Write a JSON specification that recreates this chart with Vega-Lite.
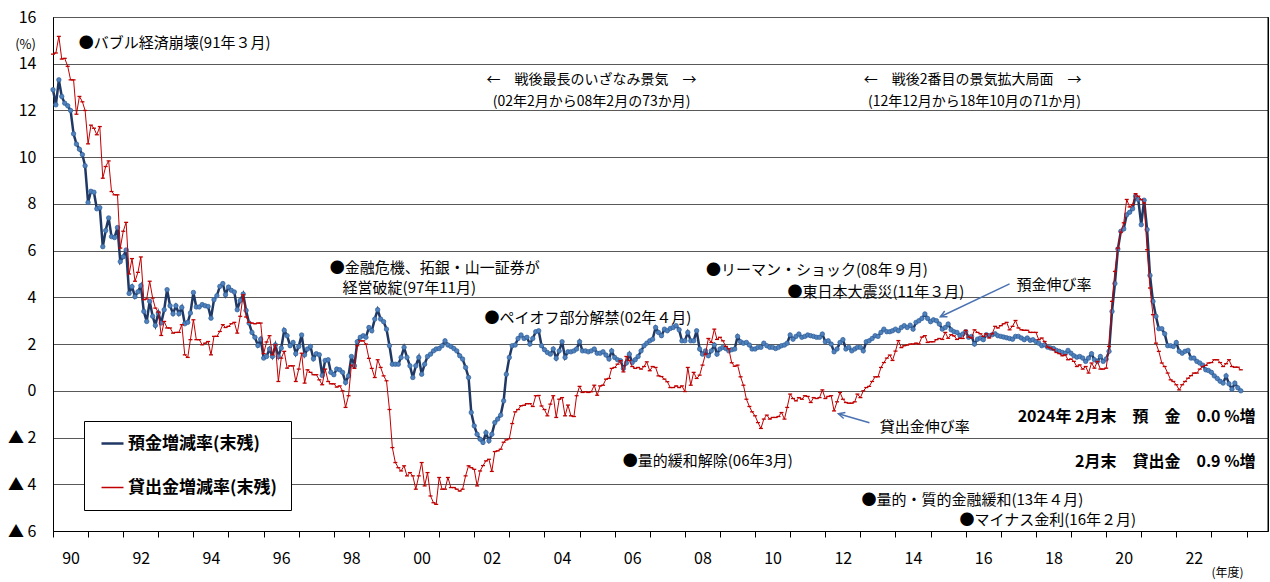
{
"$schema": "https://vega.github.io/schema/vega-lite/v6.json",
"width": 1215, "height": 514,
"autosize": {"type": "none"},
"padding": {"left": 53, "top": 17, "right": 2, "bottom": 51},
"background": "white",
"config": {"font": "Noto Sans CJK JP", "view": {"stroke": "#000000", "strokeWidth": 1}, "text": {"font": "Noto Sans CJK JP"}},
"data": {"values": [
{"d":"1990-04-01","dep":12.89,"loan":14.41},{"d":"1990-05-01","dep":12.24,"loan":14.46},{"d":"1990-06-01","dep":13.31,"loan":15.17},{"d":"1990-07-01","dep":12.6,"loan":14.2},{"d":"1990-08-01","dep":12.31,"loan":14.23},{"d":"1990-09-01","dep":12.2,"loan":13.89},{"d":"1990-10-01","dep":12.0,"loan":13.31},{"d":"1990-11-01","dep":11.0,"loan":13.31},{"d":"1990-12-01","dep":10.56,"loan":11.84},
{"d":"1991-01-01","dep":10.34,"loan":12.6},{"d":"1991-02-01","dep":10.11,"loan":12.37},{"d":"1991-03-01","dep":9.63,"loan":12.0},{"d":"1991-04-01","dep":8.06,"loan":10.57},{"d":"1991-05-01","dep":8.54,"loan":11.37},{"d":"1991-06-01","dep":8.5,"loan":11.24},{"d":"1991-07-01","dep":7.79,"loan":10.96},{"d":"1991-08-01","dep":7.84,"loan":11.31},{"d":"1991-09-01","dep":6.17,"loan":9.1},{"d":"1991-10-01","dep":6.86,"loan":9.6},{"d":"1991-11-01","dep":7.4,"loan":9.84},{"d":"1991-12-01","dep":6.6,"loan":8.53},
{"d":"1992-01-01","dep":6.56,"loan":8.39},{"d":"1992-02-01","dep":6.99,"loan":8.39},{"d":"1992-03-01","dep":5.53,"loan":6.11},{"d":"1992-04-01","dep":5.74,"loan":6.83},{"d":"1992-05-01","dep":6.03,"loan":7.21},{"d":"1992-06-01","dep":4.17,"loan":5.0},{"d":"1992-07-01","dep":4.46,"loan":5.66},{"d":"1992-08-01","dep":4.03,"loan":4.69},{"d":"1992-09-01","dep":4.24,"loan":5.07},{"d":"1992-10-01","dep":4.5,"loan":5.73},{"d":"1992-11-01","dep":3.4,"loan":3.9},{"d":"1992-12-01","dep":2.97,"loan":3.93},
{"d":"1993-01-01","dep":3.83,"loan":4.69},{"d":"1993-02-01","dep":3.19,"loan":3.97},{"d":"1993-03-01","dep":2.8,"loan":3.54},{"d":"1993-04-01","dep":3.33,"loan":3.37},{"d":"1993-05-01","dep":2.9,"loan":2.37},{"d":"1993-06-01","dep":3.47,"loan":2.97},{"d":"1993-07-01","dep":4.33,"loan":2.69},{"d":"1993-08-01","dep":3.64,"loan":2.69},{"d":"1993-09-01","dep":3.3,"loan":2.47},{"d":"1993-10-01","dep":3.64,"loan":2.5},{"d":"1993-11-01","dep":3.3,"loan":2.5},{"d":"1993-12-01","dep":3.57,"loan":2.83},
{"d":"1994-01-01","dep":2.87,"loan":1.54},{"d":"1994-02-01","dep":2.93,"loan":1.43},{"d":"1994-03-01","dep":3.33,"loan":2.19},{"d":"1994-04-01","dep":4.21,"loan":3.04},{"d":"1994-05-01","dep":3.59,"loan":2.19},{"d":"1994-06-01","dep":3.59,"loan":2.19},{"d":"1994-07-01","dep":3.69,"loan":1.97},{"d":"1994-08-01","dep":3.64,"loan":2.04},{"d":"1994-09-01","dep":3.61,"loan":2.11},{"d":"1994-10-01","dep":3.11,"loan":1.54},{"d":"1994-11-01","dep":3.9,"loan":2.33},{"d":"1994-12-01","dep":4.07,"loan":2.33},
{"d":"1995-01-01","dep":4.47,"loan":2.54},{"d":"1995-02-01","dep":4.59,"loan":2.83},{"d":"1995-03-01","dep":4.11,"loan":2.71},{"d":"1995-04-01","dep":4.44,"loan":2.76},{"d":"1995-05-01","dep":4.3,"loan":2.87},{"d":"1995-06-01","dep":4.23,"loan":2.93},{"d":"1995-07-01","dep":3.47,"loan":2.47},{"d":"1995-08-01","dep":3.87,"loan":3.19},{"d":"1995-09-01","dep":4.14,"loan":4.11},{"d":"1995-10-01","dep":3.44,"loan":3.16},{"d":"1995-11-01","dep":2.9,"loan":2.93},{"d":"1995-12-01","dep":2.5,"loan":2.9},
{"d":"1996-01-01","dep":2.29,"loan":2.87},{"d":"1996-02-01","dep":1.94,"loan":2.9},{"d":"1996-03-01","dep":2.21,"loan":2.9},{"d":"1996-04-01","dep":1.4,"loan":1.59},{"d":"1996-05-01","dep":1.47,"loan":2.09},{"d":"1996-06-01","dep":1.79,"loan":2.36},{"d":"1996-07-01","dep":1.47,"loan":1.54},{"d":"1996-08-01","dep":1.96,"loan":1.97},{"d":"1996-09-01","dep":1.47,"loan":0.4},{"d":"1996-10-01","dep":1.83,"loan":1.4},{"d":"1996-11-01","dep":2.59,"loan":1.69},{"d":"1996-12-01","dep":2.36,"loan":0.97},
{"d":"1997-01-01","dep":1.93,"loan":1.07},{"d":"1997-02-01","dep":2.07,"loan":1.07},{"d":"1997-03-01","dep":1.59,"loan":0.4},{"d":"1997-04-01","dep":1.9,"loan":0.93},{"d":"1997-05-01","dep":2.39,"loan":1.61},{"d":"1997-06-01","dep":1.54,"loan":0.33},{"d":"1997-07-01","dep":1.79,"loan":0.9},{"d":"1997-08-01","dep":1.9,"loan":0.79},{"d":"1997-09-01","dep":1.37,"loan":0.69},{"d":"1997-10-01","dep":1.59,"loan":0.69},{"d":"1997-11-01","dep":1.54,"loan":0.47},{"d":"1997-12-01","dep":0.66,"loan":0.26},
{"d":"1998-01-01","dep":1.3,"loan":0.93},{"d":"1998-02-01","dep":1.33,"loan":0.4},{"d":"1998-03-01","dep":0.79,"loan":0.3},{"d":"1998-04-01","dep":0.69,"loan":0.3},{"d":"1998-05-01","dep":0.93,"loan":0.16},{"d":"1998-06-01","dep":0.9,"loan":0.21},{"d":"1998-07-01","dep":0.79,"loan":0.0},{"d":"1998-08-01","dep":0.36,"loan":-0.71},{"d":"1998-09-01","dep":0.64,"loan":-0.21},{"d":"1998-10-01","dep":1.47,"loan":1.1},{"d":"1998-11-01","dep":1.07,"loan":0.96},{"d":"1998-12-01","dep":2.1,"loan":1.93},
{"d":"1999-01-01","dep":2.29,"loan":2.14},{"d":"1999-02-01","dep":2.36,"loan":2.14},{"d":"1999-03-01","dep":2.29,"loan":2.0},{"d":"1999-04-01","dep":2.71,"loan":1.39},{"d":"1999-05-01","dep":2.57,"loan":0.96},{"d":"1999-06-01","dep":3.07,"loan":0.57},{"d":"1999-07-01","dep":3.47,"loan":1.33},{"d":"1999-08-01","dep":3.07,"loan":1.0},{"d":"1999-09-01","dep":2.96,"loan":0.64},{"d":"1999-10-01","dep":2.64,"loan":0.43},{"d":"1999-11-01","dep":1.93,"loan":-0.8},{"d":"1999-12-01","dep":1.14,"loan":-2.43},
{"d":"2000-01-01","dep":1.14,"loan":-3.07},{"d":"2000-02-01","dep":1.14,"loan":-3.29},{"d":"2000-03-01","dep":1.43,"loan":-3.43},{"d":"2000-04-01","dep":1.86,"loan":-3.21},{"d":"2000-05-01","dep":1.43,"loan":-3.64},{"d":"2000-06-01","dep":1.07,"loan":-3.5},{"d":"2000-07-01","dep":0.57,"loan":-3.64},{"d":"2000-08-01","dep":1.07,"loan":-4.21},{"d":"2000-09-01","dep":1.43,"loan":-3.64},{"d":"2000-10-01","dep":0.71,"loan":-3.07},{"d":"2000-11-01","dep":1.14,"loan":-4.07},{"d":"2000-12-01","dep":1.47,"loan":-3.5},
{"d":"2001-01-01","dep":1.57,"loan":-4.5},{"d":"2001-02-01","dep":1.71,"loan":-4.79},{"d":"2001-03-01","dep":1.79,"loan":-4.86},{"d":"2001-04-01","dep":1.81,"loan":-3.71},{"d":"2001-05-01","dep":1.93,"loan":-4.21},{"d":"2001-06-01","dep":2.14,"loan":-4.21},{"d":"2001-07-01","dep":1.96,"loan":-3.71},{"d":"2001-08-01","dep":1.9,"loan":-4.14},{"d":"2001-09-01","dep":1.81,"loan":-4.14},{"d":"2001-10-01","dep":1.71,"loan":-4.21},{"d":"2001-11-01","dep":1.5,"loan":-4.29},{"d":"2001-12-01","dep":1.36,"loan":-4.21},
{"d":"2002-01-01","dep":1.0,"loan":-3.64},{"d":"2002-02-01","dep":0.57,"loan":-3.21},{"d":"2002-03-01","dep":-0.93,"loan":-3.29},{"d":"2002-04-01","dep":-1.5,"loan":-3.36},{"d":"2002-05-01","dep":-1.86,"loan":-4.07},{"d":"2002-06-01","dep":-2.07,"loan":-3.43},{"d":"2002-07-01","dep":-2.21,"loan":-3.2},{"d":"2002-08-01","dep":-1.79,"loan":-3.0},{"d":"2002-09-01","dep":-2.14,"loan":-2.93},{"d":"2002-10-01","dep":-1.86,"loan":-3.45},{"d":"2002-11-01","dep":-1.36,"loan":-2.6},{"d":"2002-12-01","dep":-1.21,"loan":-2.57},
{"d":"2003-01-01","dep":-1.04,"loan":-2.5},{"d":"2003-02-01","dep":-0.43,"loan":-2.2},{"d":"2003-03-01","dep":0.71,"loan":-2.1},{"d":"2003-04-01","dep":1.43,"loan":-2.05},{"d":"2003-05-01","dep":1.93,"loan":-1.4},{"d":"2003-06-01","dep":1.96,"loan":-0.9},{"d":"2003-07-01","dep":2.24,"loan":-0.8},{"d":"2003-08-01","dep":2.39,"loan":-0.64},{"d":"2003-09-01","dep":2.24,"loan":-0.62},{"d":"2003-10-01","dep":2.29,"loan":-0.55},{"d":"2003-11-01","dep":2.0,"loan":-0.55},{"d":"2003-12-01","dep":2.24,"loan":-0.67},
{"d":"2004-01-01","dep":2.53,"loan":-0.21},{"d":"2004-02-01","dep":2.57,"loan":-0.2},{"d":"2004-03-01","dep":1.93,"loan":-0.65},{"d":"2004-04-01","dep":1.76,"loan":-0.8},{"d":"2004-05-01","dep":1.64,"loan":-1.07},{"d":"2004-06-01","dep":1.57,"loan":-0.57},{"d":"2004-07-01","dep":1.79,"loan":-0.21},{"d":"2004-08-01","dep":1.39,"loan":-1.14},{"d":"2004-09-01","dep":1.71,"loan":-0.36},{"d":"2004-10-01","dep":2.1,"loan":-0.29},{"d":"2004-11-01","dep":1.43,"loan":-1.07},{"d":"2004-12-01","dep":1.67,"loan":-0.61},
{"d":"2005-01-01","dep":1.67,"loan":-1.07},{"d":"2005-02-01","dep":1.71,"loan":-1.1},{"d":"2005-03-01","dep":1.79,"loan":-0.21},{"d":"2005-04-01","dep":2.1,"loan":0.19},{"d":"2005-05-01","dep":1.71,"loan":-0.07},{"d":"2005-06-01","dep":1.71,"loan":-0.04},{"d":"2005-07-01","dep":1.67,"loan":-0.07},{"d":"2005-08-01","dep":1.71,"loan":-0.04},{"d":"2005-09-01","dep":1.79,"loan":0.24},{"d":"2005-10-01","dep":1.61,"loan":-0.19},{"d":"2005-11-01","dep":1.61,"loan":0.21},{"d":"2005-12-01","dep":1.67,"loan":0.24},
{"d":"2006-01-01","dep":1.53,"loan":0.5},{"d":"2006-02-01","dep":1.36,"loan":0.53},{"d":"2006-03-01","dep":1.71,"loan":0.96},{"d":"2006-04-01","dep":1.43,"loan":1.0},{"d":"2006-05-01","dep":1.33,"loan":1.14},{"d":"2006-06-01","dep":1.29,"loan":1.29},{"d":"2006-07-01","dep":0.96,"loan":0.81},{"d":"2006-08-01","dep":1.19,"loan":1.47},{"d":"2006-09-01","dep":1.57,"loan":1.3},{"d":"2006-10-01","dep":1.21,"loan":1.04},{"d":"2006-11-01","dep":1.33,"loan":0.96},{"d":"2006-12-01","dep":1.47,"loan":1.0},
{"d":"2007-01-01","dep":1.71,"loan":0.93},{"d":"2007-02-01","dep":1.93,"loan":1.04},{"d":"2007-03-01","dep":2.04,"loan":1.24},{"d":"2007-04-01","dep":2.14,"loan":0.86},{"d":"2007-05-01","dep":2.21,"loan":1.04},{"d":"2007-06-01","dep":2.71,"loan":1.0},{"d":"2007-07-01","dep":2.5,"loan":0.64},{"d":"2007-08-01","dep":2.36,"loan":0.61},{"d":"2007-09-01","dep":2.64,"loan":0.5},{"d":"2007-10-01","dep":2.57,"loan":0.39},{"d":"2007-11-01","dep":2.67,"loan":0.14},{"d":"2007-12-01","dep":2.71,"loan":0.14},
{"d":"2008-01-01","dep":2.79,"loan":0.21},{"d":"2008-02-01","dep":2.61,"loan":0.14},{"d":"2008-03-01","dep":2.14,"loan":0.21},{"d":"2008-04-01","dep":2.14,"loan":-0.03},{"d":"2008-05-01","dep":2.5,"loan":1.0},{"d":"2008-06-01","dep":2.14,"loan":0.24},{"d":"2008-07-01","dep":2.14,"loan":0.79},{"d":"2008-08-01","dep":2.57,"loan":0.53},{"d":"2008-09-01","dep":1.79,"loan":0.67},{"d":"2008-10-01","dep":1.57,"loan":1.1},{"d":"2008-11-01","dep":1.71,"loan":1.57},{"d":"2008-12-01","dep":1.5,"loan":2.24},
{"d":"2009-01-01","dep":1.71,"loan":2.07},{"d":"2009-02-01","dep":1.96,"loan":2.64},{"d":"2009-03-01","dep":1.57,"loan":2.2},{"d":"2009-04-01","dep":1.79,"loan":2.29},{"d":"2009-05-01","dep":1.86,"loan":2.14},{"d":"2009-06-01","dep":1.81,"loan":1.9},{"d":"2009-07-01","dep":1.71,"loan":1.8},{"d":"2009-08-01","dep":1.76,"loan":1.2},{"d":"2009-09-01","dep":1.79,"loan":1.05},{"d":"2009-10-01","dep":2.33,"loan":1.1},{"d":"2009-11-01","dep":2.1,"loan":0.6},{"d":"2009-12-01","dep":2.04,"loan":0.24},
{"d":"2010-01-01","dep":2.07,"loan":-0.36},{"d":"2010-02-01","dep":1.96,"loan":-0.67},{"d":"2010-03-01","dep":1.79,"loan":-0.9},{"d":"2010-04-01","dep":1.79,"loan":-1.07},{"d":"2010-05-01","dep":1.86,"loan":-1.36},{"d":"2010-06-01","dep":1.86,"loan":-1.61},{"d":"2010-07-01","dep":2.04,"loan":-1.21},{"d":"2010-08-01","dep":1.93,"loan":-1.04},{"d":"2010-09-01","dep":1.86,"loan":-1.21},{"d":"2010-10-01","dep":1.86,"loan":-1.14},{"d":"2010-11-01","dep":1.81,"loan":-1.14},{"d":"2010-12-01","dep":1.86,"loan":-1.1},
{"d":"2011-01-01","dep":1.93,"loan":-0.93},{"d":"2011-02-01","dep":1.96,"loan":-1.21},{"d":"2011-03-01","dep":2.04,"loan":-0.71},{"d":"2011-04-01","dep":2.39,"loan":-0.14},{"d":"2011-05-01","dep":2.21,"loan":-0.33},{"d":"2011-06-01","dep":2.33,"loan":-0.43},{"d":"2011-07-01","dep":2.43,"loan":-0.29},{"d":"2011-08-01","dep":2.29,"loan":-0.36},{"d":"2011-09-01","dep":2.33,"loan":-0.21},{"d":"2011-10-01","dep":2.39,"loan":-0.24},{"d":"2011-11-01","dep":2.36,"loan":-0.5},{"d":"2011-12-01","dep":2.33,"loan":-0.29},
{"d":"2012-01-01","dep":2.29,"loan":-0.33},{"d":"2012-02-01","dep":2.29,"loan":-0.29},{"d":"2012-03-01","dep":2.43,"loan":0.04},{"d":"2012-04-01","dep":2.1,"loan":-0.33},{"d":"2012-05-01","dep":2.14,"loan":-0.24},{"d":"2012-06-01","dep":2.0,"loan":-0.21},{"d":"2012-07-01","dep":1.67,"loan":-0.86},{"d":"2012-08-01","dep":1.79,"loan":-0.47},{"d":"2012-09-01","dep":2.07,"loan":-0.07},{"d":"2012-10-01","dep":2.19,"loan":-0.36},{"d":"2012-11-01","dep":1.79,"loan":-0.5},{"d":"2012-12-01","dep":1.86,"loan":-0.53},
{"d":"2013-01-01","dep":1.71,"loan":-0.53},{"d":"2013-02-01","dep":1.79,"loan":-0.47},{"d":"2013-03-01","dep":1.86,"loan":-0.14},{"d":"2013-04-01","dep":1.86,"loan":-0.29},{"d":"2013-05-01","dep":1.71,"loan":0.0},{"d":"2013-06-01","dep":2.1,"loan":0.14},{"d":"2013-07-01","dep":2.14,"loan":0.19},{"d":"2013-08-01","dep":2.24,"loan":0.4},{"d":"2013-09-01","dep":2.36,"loan":0.6},{"d":"2013-10-01","dep":2.33,"loan":0.6},{"d":"2013-11-01","dep":2.5,"loan":1.0},{"d":"2013-12-01","dep":2.64,"loan":1.21},
{"d":"2014-01-01","dep":2.53,"loan":1.4},{"d":"2014-02-01","dep":2.53,"loan":1.53},{"d":"2014-03-01","dep":2.57,"loan":1.3},{"d":"2014-04-01","dep":2.64,"loan":1.7},{"d":"2014-05-01","dep":2.57,"loan":2.15},{"d":"2014-06-01","dep":2.71,"loan":1.85},{"d":"2014-07-01","dep":2.79,"loan":1.93},{"d":"2014-08-01","dep":2.71,"loan":1.96},{"d":"2014-09-01","dep":2.81,"loan":2.0},{"d":"2014-10-01","dep":2.64,"loan":2.0},{"d":"2014-11-01","dep":2.93,"loan":2.04},{"d":"2014-12-01","dep":3.0,"loan":2.0},
{"d":"2015-01-01","dep":3.1,"loan":2.3},{"d":"2015-02-01","dep":3.29,"loan":2.36},{"d":"2015-03-01","dep":3.1,"loan":2.07},{"d":"2015-04-01","dep":2.96,"loan":2.1},{"d":"2015-05-01","dep":3.04,"loan":2.1},{"d":"2015-06-01","dep":3.0,"loan":2.19},{"d":"2015-07-01","dep":2.86,"loan":2.24},{"d":"2015-08-01","dep":2.64,"loan":2.2},{"d":"2015-09-01","dep":2.71,"loan":2.5},{"d":"2015-10-01","dep":2.86,"loan":2.25},{"d":"2015-11-01","dep":2.61,"loan":2.4},{"d":"2015-12-01","dep":2.53,"loan":2.35},
{"d":"2016-01-01","dep":2.5,"loan":2.2},{"d":"2016-02-01","dep":2.36,"loan":2.25},{"d":"2016-03-01","dep":2.43,"loan":2.24},{"d":"2016-04-01","dep":2.53,"loan":2.59},{"d":"2016-05-01","dep":2.29,"loan":2.3},{"d":"2016-06-01","dep":2.33,"loan":2.26},{"d":"2016-07-01","dep":2.0,"loan":2.61},{"d":"2016-08-01","dep":2.21,"loan":2.5},{"d":"2016-09-01","dep":2.26,"loan":2.44},{"d":"2016-10-01","dep":2.19,"loan":2.33},{"d":"2016-11-01","dep":2.4,"loan":2.44},{"d":"2016-12-01","dep":2.36,"loan":2.26},
{"d":"2017-01-01","dep":2.4,"loan":2.44},{"d":"2017-02-01","dep":2.44,"loan":2.76},{"d":"2017-03-01","dep":2.36,"loan":2.69},{"d":"2017-04-01","dep":2.33,"loan":2.79},{"d":"2017-05-01","dep":2.3,"loan":2.87},{"d":"2017-06-01","dep":2.27,"loan":2.93},{"d":"2017-07-01","dep":2.24,"loan":2.61},{"d":"2017-08-01","dep":2.21,"loan":2.76},{"d":"2017-09-01","dep":2.33,"loan":3.01},{"d":"2017-10-01","dep":2.33,"loan":2.69},{"d":"2017-11-01","dep":2.26,"loan":2.61},{"d":"2017-12-01","dep":2.19,"loan":2.59},
{"d":"2018-01-01","dep":2.26,"loan":2.59},{"d":"2018-02-01","dep":2.16,"loan":2.5},{"d":"2018-03-01","dep":2.19,"loan":2.5},{"d":"2018-04-01","dep":2.11,"loan":2.5},{"d":"2018-05-01","dep":2.04,"loan":2.19},{"d":"2018-06-01","dep":1.93,"loan":2.26},{"d":"2018-07-01","dep":1.97,"loan":2.11},{"d":"2018-08-01","dep":1.87,"loan":1.87},{"d":"2018-09-01","dep":1.83,"loan":1.83},{"d":"2018-10-01","dep":1.81,"loan":1.76},{"d":"2018-11-01","dep":1.73,"loan":1.64},{"d":"2018-12-01","dep":1.69,"loan":1.59},
{"d":"2019-01-01","dep":1.64,"loan":1.5},{"d":"2019-02-01","dep":1.61,"loan":1.54},{"d":"2019-03-01","dep":1.73,"loan":1.33},{"d":"2019-04-01","dep":1.61,"loan":1.36},{"d":"2019-05-01","dep":1.5,"loan":1.26},{"d":"2019-06-01","dep":1.44,"loan":1.04},{"d":"2019-07-01","dep":1.47,"loan":1.11},{"d":"2019-08-01","dep":1.4,"loan":0.93},{"d":"2019-09-01","dep":1.26,"loan":1.04},{"d":"2019-10-01","dep":1.4,"loan":0.76},{"d":"2019-11-01","dep":1.59,"loan":1.19},{"d":"2019-12-01","dep":1.33,"loan":0.97},
{"d":"2020-01-01","dep":1.26,"loan":1.26},{"d":"2020-02-01","dep":1.47,"loan":0.93},{"d":"2020-03-01","dep":1.26,"loan":0.93},{"d":"2020-04-01","dep":1.36,"loan":0.97},{"d":"2020-05-01","dep":1.69,"loan":1.9},{"d":"2020-06-01","dep":3.4,"loan":3.83},{"d":"2020-07-01","dep":4.59,"loan":5.11},{"d":"2020-08-01","dep":6.07,"loan":6.11},{"d":"2020-09-01","dep":6.83,"loan":6.79},{"d":"2020-10-01","dep":6.93,"loan":7.19},{"d":"2020-11-01","dep":7.54,"loan":8.19},{"d":"2020-12-01","dep":7.64,"loan":7.87},
{"d":"2021-01-01","dep":7.79,"loan":7.97},{"d":"2021-02-01","dep":8.33,"loan":8.44},{"d":"2021-03-01","dep":8.19,"loan":8.33},{"d":"2021-04-01","dep":7.11,"loan":8.19},{"d":"2021-05-01","dep":8.16,"loan":8.04},{"d":"2021-06-01","dep":6.9,"loan":6.04},{"d":"2021-07-01","dep":4.94,"loan":4.4},{"d":"2021-08-01","dep":3.83,"loan":3.26},{"d":"2021-09-01","dep":3.19,"loan":2.04},{"d":"2021-10-01","dep":2.66,"loan":1.69},{"d":"2021-11-01","dep":2.66,"loan":1.19},{"d":"2021-12-01","dep":2.44,"loan":1.04},
{"d":"2022-01-01","dep":1.93,"loan":0.76},{"d":"2022-02-01","dep":1.93,"loan":0.47},{"d":"2022-03-01","dep":1.9,"loan":0.4},{"d":"2022-04-01","dep":2.07,"loan":0.26},{"d":"2022-05-01","dep":1.69,"loan":0.04},{"d":"2022-06-01","dep":1.61,"loan":0.26},{"d":"2022-07-01","dep":1.69,"loan":0.4},{"d":"2022-08-01","dep":1.73,"loan":0.54},{"d":"2022-09-01","dep":1.4,"loan":0.65},{"d":"2022-10-01","dep":1.4,"loan":0.76},{"d":"2022-11-01","dep":1.26,"loan":0.76},{"d":"2022-12-01","dep":1.19,"loan":0.93},
{"d":"2023-01-01","dep":1.1,"loan":1.04},{"d":"2023-02-01","dep":0.9,"loan":1.09},{"d":"2023-03-01","dep":0.87,"loan":1.19},{"d":"2023-04-01","dep":0.79,"loan":1.21},{"d":"2023-05-01","dep":0.64,"loan":1.33},{"d":"2023-06-01","dep":0.53,"loan":1.33},{"d":"2023-07-01","dep":0.41,"loan":1.21},{"d":"2023-08-01","dep":0.33,"loan":1.04},{"d":"2023-09-01","dep":0.64,"loan":1.16},{"d":"2023-10-01","dep":0.3,"loan":1.33},{"d":"2023-11-01","dep":0.07,"loan":1.04},{"d":"2023-12-01","dep":0.33,"loan":1.01},
{"d":"2024-01-01","dep":0.13,"loan":1.01},{"d":"2024-02-01","dep":0.0,"loan":0.9}
]},
"encoding": {
  "x": {"field": "d", "type": "temporal",
    "scale": {"type": "utc", "domain": [{"year":1990,"month":4,"date":1,"utc":true},{"year":2024,"month":11,"date":10,"utc":true}]},
    "axis": {"title": "(年度)",
      "values": [{"year":1990,"month":4,"date":1,"utc":true},{"year":1991,"month":4,"date":1,"utc":true},{"year":1992,"month":4,"date":1,"utc":true},{"year":1993,"month":4,"date":1,"utc":true},{"year":1994,"month":4,"date":1,"utc":true},{"year":1995,"month":4,"date":1,"utc":true},{"year":1996,"month":4,"date":1,"utc":true},{"year":1997,"month":4,"date":1,"utc":true},{"year":1998,"month":4,"date":1,"utc":true},{"year":1999,"month":4,"date":1,"utc":true},{"year":2000,"month":4,"date":1,"utc":true},{"year":2001,"month":4,"date":1,"utc":true},{"year":2002,"month":4,"date":1,"utc":true},{"year":2003,"month":4,"date":1,"utc":true},{"year":2004,"month":4,"date":1,"utc":true},{"year":2005,"month":4,"date":1,"utc":true},{"year":2006,"month":4,"date":1,"utc":true},{"year":2007,"month":4,"date":1,"utc":true},{"year":2008,"month":4,"date":1,"utc":true},{"year":2009,"month":4,"date":1,"utc":true},{"year":2010,"month":4,"date":1,"utc":true},{"year":2011,"month":4,"date":1,"utc":true},{"year":2012,"month":4,"date":1,"utc":true},{"year":2013,"month":4,"date":1,"utc":true},{"year":2014,"month":4,"date":1,"utc":true},{"year":2015,"month":4,"date":1,"utc":true},{"year":2016,"month":4,"date":1,"utc":true},{"year":2017,"month":4,"date":1,"utc":true},{"year":2018,"month":4,"date":1,"utc":true},{"year":2019,"month":4,"date":1,"utc":true},{"year":2020,"month":4,"date":1,"utc":true},{"year":2021,"month":4,"date":1,"utc":true},{"year":2022,"month":4,"date":1,"utc":true},{"year":2023,"month":4,"date":1,"utc":true},{"year":2024,"month":4,"date":1,"utc":true}],
      "labelExpr": "utcyear(datum.value) % 2 == 0 && utcyear(datum.value) <= 2022 ? utcFormat(datum.value, '%y') : ''",
      "grid": false, "domainColor": "#000000", "tickColor": "#000000", "tickSize": 6,
      "labelFont": "Noto Sans CJK JP", "labelFontSize": 16, "labelColor": "#000000", "labelPadding": 13, "labelOffset": 17.5,
      "labelOverlap": false, "labelFlush": false, "labelBound": false,
      "titleFont": "Noto Sans CJK JP", "titleFontSize": 12, "titleFontWeight": "normal", "titleColor": "#000000",
      "titleX": 1174, "titleY": 41, "titleAlign": "center", "titleBaseline": "middle"}},
  "y": {"field": "v", "type": "quantitative", "scale": {"domain": [-6, 16]},
    "axis": {"title": "(%)", "values": [-6,-4,-2,0,2,4,6,8,10,12,14,16],
      "labelExpr": "datum.value < 0 ? '▲ ' + (-datum.value) : datum.label",
      "grid": true, "gridColor": "#595959", "gridWidth": 1, "ticks": false, "tickSize": 0,
      "domainColor": "#000000", "labelFont": "Noto Sans CJK JP", "labelFontSize": 16, "labelColor": "#000000", "labelPadding": 17, "labelFlush": false, "labelOverlap": false,
      "titleFont": "Noto Sans CJK JP", "titleAngle": 0, "titleX": -28, "titleY": 27, "titleAlign": "center", "titleBaseline": "middle", "titleFontSize": 13, "titleFontWeight": "normal", "titleColor": "#000000"}}
},
"layer": [
  {"transform": [{"fold": ["dep", "loan"], "as": ["s", "v"]}, {"filter": "datum.s == 'dep'"}],
   "mark": {"type": "line", "strokeWidth": 2.5},
   "encoding": {
     "color": {"datum": "預金増減率(末残)", "type": "nominal",
       "scale": {"domain": ["預金増減率(末残)", "貸出金増減率(末残)"], "range": ["#1f3864", "#c00000"]},
       "legend": {"title": null, "orient": "none", "legendX": 31, "legendY": 404, "strokeColor": "#000000", "fillColor": "#ffffff", "padding": 14, "symbolOffset": 6, "rowPadding": 26, "symbolType": "stroke", "symbolSize": 484, "symbolStrokeWidth": 2.5, "labelFont": "Noto Sans CJK JP", "labelFontSize": 17, "labelFontWeight": "bold", "labelColor": "#000000", "labelOffset": 7, "labelLimit": 300,
         "encode": {"symbols": {"update": {"strokeWidth": {"signal": "datum.value == '預金増減率(末残)' ? 2.5 : 1.5"}}}}}}
   }},
  {"transform": [{"fold": ["dep", "loan"], "as": ["s", "v"]}, {"filter": "datum.s == 'dep'"}],
   "mark": {"type": "point", "filled": true, "fill": "#4f81bd", "stroke": "#2f5f98", "strokeWidth": 0.7, "size": 20, "opacity": 1}},
  {"transform": [{"fold": ["dep", "loan"], "as": ["s", "v"]}, {"filter": "datum.s == 'loan'"}],
   "mark": {"type": "line", "strokeWidth": 1},
   "encoding": {"color": {"datum": "貸出金増減率(末残)", "type": "nominal"}}},
  {"transform": [{"fold": ["dep", "loan"], "as": ["s", "v"]}, {"filter": "datum.s == 'loan'"}],
   "mark": {"type": "point", "shape": "M-1,0L1,0", "filled": false, "stroke": "#c00000", "strokeWidth": 1.3, "size": 16, "opacity": 1}},
  {"data": {"values": [{"d":"2017-07-01","v":4.58,"d2":"2015-07-12","v2":3.17},{"d":"2013-07-04","v":-1.37,"d2":"2012-08-15","v2":-0.98}], "format": {"parse": {"d": "date", "d2": "date"}}},
   "mark": {"type": "rule", "stroke": "#4a72b0", "strokeWidth": 1.5},
   "encoding": {"x2": {"field": "d2"}, "y2": {"field": "v2"}}},
  {"data": {"values": [{"d":"2015-07-12","v":3.17}]},
   "mark": {"type": "point", "shape": "M-0.8,1.6L0,0L0.8,1.6", "filled": false, "stroke": "#4a72b0", "strokeWidth": 1.5, "size": 64, "angle": 244, "opacity": 1}},
  {"data": {"values": [{"d":"2012-08-15","v":-0.98}]},
   "mark": {"type": "point", "shape": "M-0.8,1.6L0,0L0.8,1.6", "filled": false, "stroke": "#4a72b0", "strokeWidth": 1.5, "size": 64, "angle": 286, "opacity": 1}},
  {"data": {"values": [{"d":"2024-11-10","v":-6,"v2":16}]},
   "mark": {"type": "rule", "stroke": "#000000", "strokeWidth": 1},
   "encoding": {"y2": {"field": "v2"}}},
  {"data": {"values": [
     {"d":"1990-12-25","v":14.9,"t":"●バブル経済崩壊(91年３月)"},
     {"d":"1998-02-18","v":5.27,"t":"●金融危機、拓銀・山一証券が"},
     {"d":"1998-07-01","v":4.41,"t":"経営破綻(97年11月)"},
     {"d":"2002-07-18","v":3.13,"t":"●ペイオフ部分解禁(02年４月)"},
     {"d":"2008-11-06","v":5.18,"t":"●リーマン・ショック(08年９月)"},
     {"d":"2011-03-04","v":4.24,"t":"●東日本大震災(11年３月)"},
     {"d":"2017-09-12","v":4.54,"t":"預金伸び率"},
     {"d":"2013-10-18","v":-1.54,"t":"貸出金伸び率"},
     {"d":"2006-06-24","v":-3.0,"t":"●量的緩和解除(06年3月)"},
     {"d":"2013-04-12","v":-4.67,"t":"●量的・質的金融緩和(13年４月)"},
     {"d":"2016-01-28","v":-5.52,"t":"●マイナス金利(16年２月)"}]},
   "mark": {"type": "text", "align": "left", "baseline": "middle", "fontSize": 15, "color": "#000000", "font": "Noto Sans CJK JP"},
   "encoding": {"text": {"field": "t"}}},
  {"data": {"values": [
     {"d":"2005-08-04","v":13.32,"t":"←　戦後最長のいざなみ景気　→"},
     {"d":"2005-08-04","v":12.38,"t":"(02年2月から08年2月の73か月)"},
     {"d":"2016-06-12","v":13.32,"t":"←　戦後2番目の景気拡大局面　→"},
     {"d":"2016-07-01","v":12.38,"t":"(12年12月から18年10月の71か月)"}]},
   "mark": {"type": "text", "align": "center", "baseline": "middle", "fontSize": 14, "color": "#000000", "font": "Noto Sans CJK JP"},
   "encoding": {"text": {"field": "t"}}},
  {"data": {"values": [
     {"d":"2024-07-04","v":-1.11,"t":"2024年 2月末　預　金　0.0 %増"},
     {"d":"2024-07-04","v":-3.04,"t":"2月末　貸出金　0.9 %増"}]},
   "mark": {"type": "text", "align": "right", "baseline": "middle", "fontSize": 16, "fontWeight": "bold", "color": "#000000", "font": "Noto Sans CJK JP"},
   "encoding": {"text": {"field": "t"}}}
]
}
